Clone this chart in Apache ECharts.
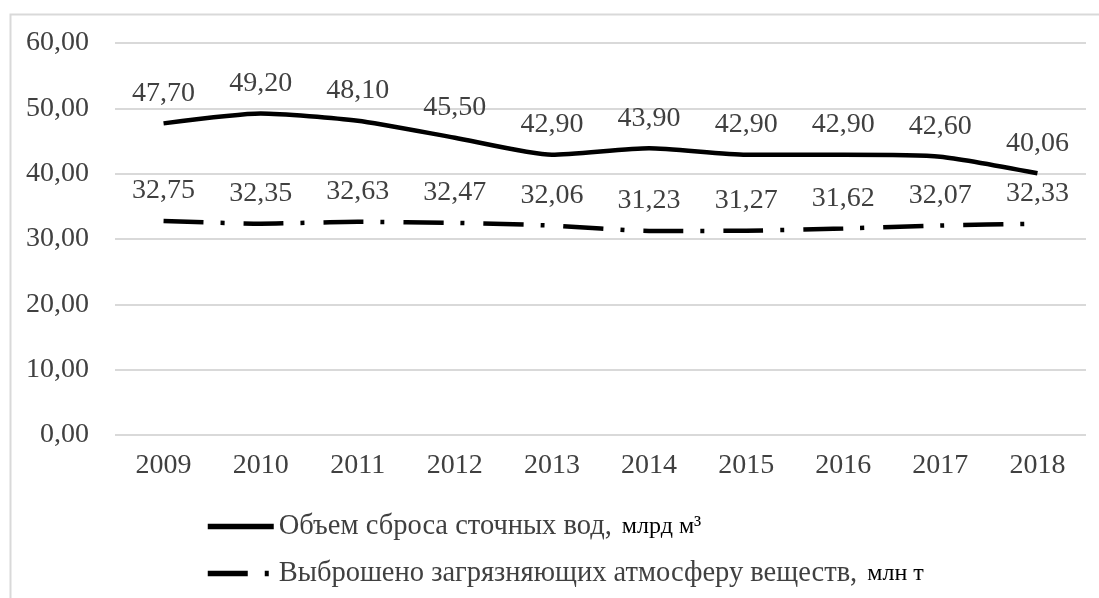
<!DOCTYPE html>
<html><head><meta charset="utf-8">
<script src="https://cdn.jsdelivr.net/npm/echarts@6/dist/echarts.min.js"></script>
<style>html,body{margin:0;padding:0;background:#fff}#c{width:1099px;height:598px}</style>
</head><body><div id="c"></div>
<script>
const categories = ['2009','2010','2011','2012','2013','2014','2015','2016','2017','2018'];
const wastewater = [47.70, 49.20, 48.10, 45.50, 42.90, 43.90, 42.90, 42.90, 42.60, 40.06];
const emissions = [32.75, 32.35, 32.63, 32.47, 32.06, 31.23, 31.27, 31.62, 32.07, 32.33];
const yTicks = { min: 0, max: 60, interval: 10 };
const name1 = 'Объем сброса сточных вод,';
const unit1 = 'млрд м³';
const name2 = 'Выброшено загрязняющих атмосферу веществ,';
const unit2 = 'млн т';

const fmt = v => Number(v).toFixed(2).replace('.', ',');
const FONT = '"Liberation Serif", "DejaVu Serif", serif';
const labelCfg = { show: true, position: 'top', distance: 16, color: '#404040', fontFamily: FONT, fontSize: 28, formatter: p => fmt(p.value) };
const chart = echarts.init(document.getElementById('c'));
chart.setOption({
  animation: false,
  graphic: [{ type: 'rect', shape: { x: 10.5, y: 14.5, width: 1200, height: 700 }, style: { fill: 'none', stroke: '#d9d9d9', lineWidth: 2 }, silent: true }],
  grid: { left: 115, right: 13, top: 43, bottom: 163 },
  xAxis: {
    type: 'category', data: categories, boundaryGap: true,
    axisLine: { show: false }, axisTick: { show: false },
    axisLabel: { color: '#404040', fontFamily: FONT, fontSize: 28, margin: 17 }
  },
  yAxis: {
    type: 'value', min: yTicks.min, max: yTicks.max, interval: yTicks.interval,
    axisLine: { show: false }, axisTick: { show: false },
    splitLine: { lineStyle: { color: '#d9d9d9', width: 2 } },
    axisLabel: { color: '#404040', fontFamily: FONT, fontSize: 28, margin: 26, formatter: fmt }
  },
  legend: {
    orient: 'vertical', left: 200, top: 507, itemWidth: 66, itemHeight: 14, itemGap: 18,
    data: [{ name: name1 }, { name: name2 }],
    itemStyle: { color: 'rgba(0,0,0,0)', borderWidth: 0 },
    lineStyle: { width: 5.5 },
    formatter: n => n === name1 ? '{a|' + name1 + '}   {b|' + unit1 + '}' : '{a|' + name2 + '}   {b|' + unit2 + '}',
    textStyle: {
      rich: {
        a: { color: '#404040', fontFamily: FONT, fontSize: 28.5 },
        b: { color: '#000', fontFamily: FONT, fontSize: 24 }
      }
    }
  },
  series: [
    {
      name: name1, type: 'line', data: wastewater, smooth: 0.2, symbol: 'circle', symbolSize: 0.01, showSymbol: true,
      lineStyle: { color: '#000', width: 4.5 },
      itemStyle: { color: 'rgba(0,0,0,0)' },
      label: labelCfg
    },
    {
      name: name2, type: 'line', data: emissions, smooth: 0.2, symbol: 'circle', symbolSize: 0.01, showSymbol: true,
      lineStyle: { color: '#000', width: 4.5, type: [40, 17, 4, 19] },
      itemStyle: { color: 'rgba(0,0,0,0)' },
      label: labelCfg
    }
  ]
});
</script></body></html>
